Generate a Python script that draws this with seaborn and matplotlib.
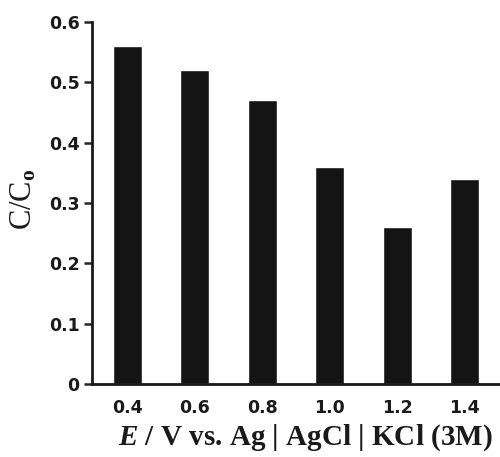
import pandas as pd
import matplotlib
matplotlib.use("Agg")
import matplotlib.pyplot as plt
import seaborn as sns

# Potentials and normalised concentration
potentials = ["0.4", "0.6", "0.8", "1.0", "1.2", "1.4"]
ratio = [0.56, 0.52, 0.47, 0.36, 0.26, 0.34]
yticks = [0, 0.1, 0.2, 0.3, 0.4, 0.5, 0.6]
ytick_labels = ["0", "0.1", "0.2", "0.3", "0.4", "0.5", "0.6"]

df = pd.DataFrame({"E": potentials, "C": ratio})

sns.set_style("ticks")
plt.rcParams["mathtext.fontset"] = "custom"
plt.rcParams["mathtext.rm"] = "Liberation Serif"
plt.rcParams["mathtext.it"] = "Liberation Serif:italic:bold"
plt.rcParams["mathtext.bf"] = "Liberation Serif:bold"

fig = plt.figure(figsize=(5.0, 4.57), dpi=100)
ax = fig.add_axes([0.184, 0.16, 0.816, 0.792])

sns.barplot(data=df, x="E", y="C", order=potentials, color="#141414",
            width=0.43, saturation=1, ax=ax)

ax.set_xlim(-0.52, 5.52)
ax.set_ylim(0, 0.6)
ax.set_yticks(yticks)
ax.set_yticklabels(ytick_labels, fontsize=12.5, fontweight="bold", color="#1a1a1a")
for lbl in ax.get_xticklabels():
    lbl.set_fontsize(12.5)
    lbl.set_fontweight("bold")
    lbl.set_color("#1a1a1a")

ax.tick_params(axis="x", length=0, pad=11)
ax.tick_params(axis="y", direction="out", length=6, width=1.8, pad=3)

sns.despine(ax=ax)
for s in ["left", "bottom"]:
    ax.spines[s].set_linewidth(2)
    ax.spines[s].set_color("#1a1a1a")

ax.set_xlabel(r"$\mathit{E}$ / V vs. Ag | AgCl | KCl (3M)", fontsize=21,
              family="Liberation Serif", fontweight="bold",
              color="#1a1a1a")
ax.xaxis.set_label_coords(0.522, -0.105)
ax.set_ylabel(r"C/C$_\mathbf{o}$", fontsize=22, family="Liberation Serif",
              color="#1a1a1a")
ax.yaxis.set_label_coords(-0.13, 0.51)

fig.savefig("out.png", dpi=100)
